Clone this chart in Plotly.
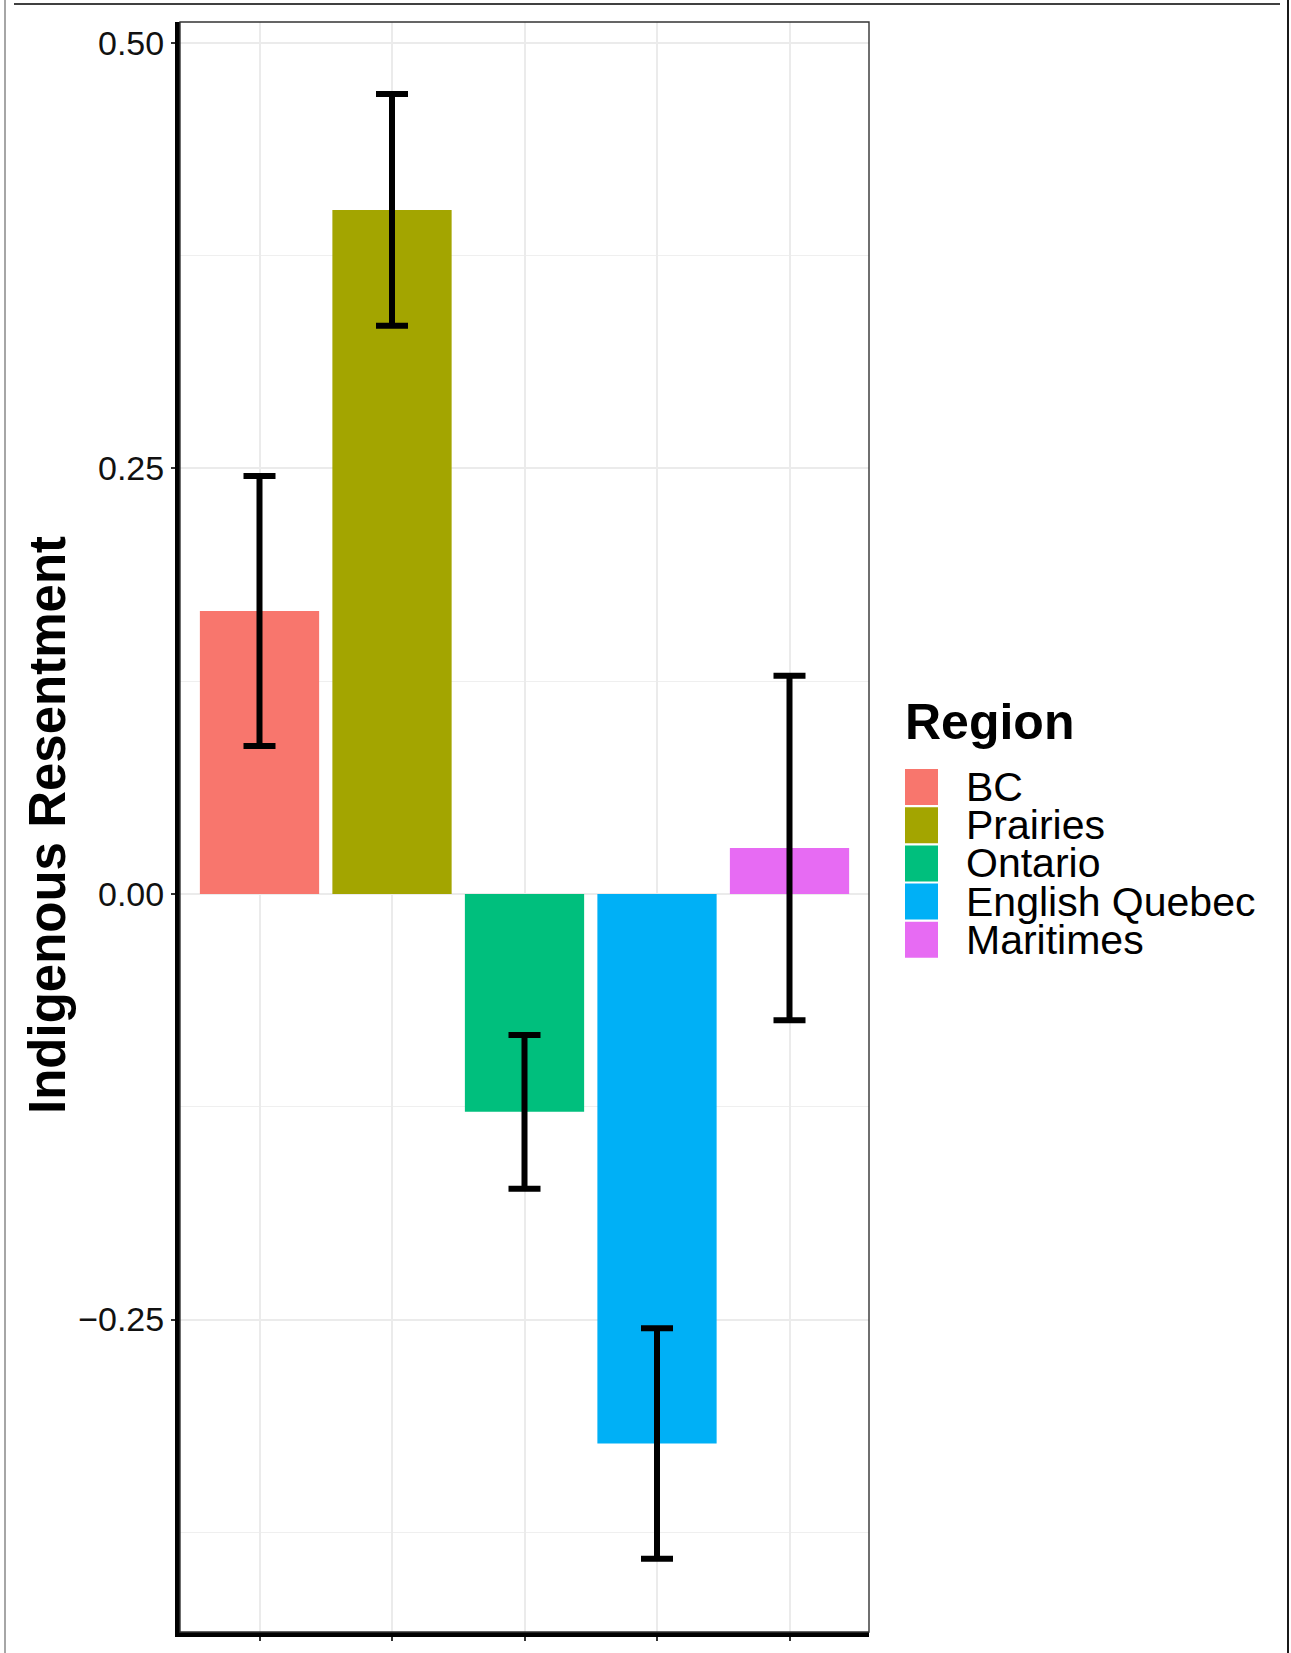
import plotly.graph_objects as go

# Region means and half-widths of the error bars
regions = ["BC", "Prairies", "Ontario", "English Quebec", "Maritimes"]
means = [0.1662, 0.4019, -0.1280, -0.3228, 0.0270]
errors = [0.0793, 0.0681, 0.0452, 0.0677, 0.1012]
colors = ["#F8766D", "#A3A500", "#00BF7D", "#00B0F6", "#E76BF3"]

y_ticks = [-0.25, 0.0, 0.25, 0.50]
y_tick_text = ["\u22120.25", "0.00", "0.25", "0.50"]
y_minor = [-0.375, -0.125, 0.125, 0.375]

W, H = 1291, 1653
L, R, T, B = 180, 869, 22, 1632  # plotting panel in page pixels
FONT = "Liberation Sans, Arial, Helvetica, sans-serif"


def px_x(px):
    return (px - L) / (R - L)


def px_y(py):
    return (B - py) / (B - T)


fig = go.Figure()
fig.add_trace(go.Bar(
    x=list(range(len(regions))),
    y=means,
    width=0.9,
    marker=dict(color=colors, line=dict(width=0)),
    error_y=dict(type="data", array=errors, symmetric=True,
                 color="black", thickness=6, width=16),
    showlegend=False,
    hoverinfo="skip",
))

shapes = [
    # thin panel border
    dict(type="rect", xref="paper", yref="paper", x0=0, x1=1, y0=0, y1=1,
         line=dict(color="#333333", width=1.4), layer="above"),
    # page frame
    dict(type="line", xref="paper", yref="paper", x0=px_x(5), x1=px_x(5),
         y0=px_y(0), y1=px_y(H), line=dict(color="#888888", width=1.5)),
    dict(type="line", xref="paper", yref="paper", x0=px_x(14), x1=px_x(1280),
         y0=px_y(4), y1=px_y(4), line=dict(color="black", width=1.5)),
    dict(type="line", xref="paper", yref="paper", x0=px_x(1288), x1=px_x(1288),
         y0=px_y(0), y1=px_y(H), line=dict(color="black", width=1.8)),
]

annotations = [
    dict(text="<b>Region</b>", xref="paper", yref="paper",
         x=px_x(903), y=px_y(722), xanchor="left", yanchor="middle",
         showarrow=False, font=dict(family=FONT, size=50, color="black")),
    # y-axis title
    dict(text="<b>Indigenous Resentment</b>", xref="paper", yref="paper",
         x=px_x(47), y=px_y(825), xanchor="center", yanchor="middle",
         textangle=-90, showarrow=False,
         font=dict(family=FONT, size=51, color="black")),
]

key_top, key_pitch, key_h = 769, 38.2, 36
for i, (name, col) in enumerate(zip(regions, colors)):
    y0 = key_top + i * key_pitch
    shapes.append(dict(type="rect", xref="paper", yref="paper",
                       x0=px_x(905), x1=px_x(938), y0=px_y(y0), y1=px_y(y0 + key_h),
                       fillcolor=col, line=dict(width=0)))
    annotations.append(dict(text=name, xref="paper", yref="paper",
                            x=px_x(964), y=px_y(y0 + key_h / 2),
                            xanchor="left", yanchor="middle", showarrow=False,
                            font=dict(family=FONT, size=41, color="black")))

fig.update_layout(
    width=W, height=H,
    margin=dict(l=L, r=W - R, t=T, b=H - B),
    paper_bgcolor="white", plot_bgcolor="white",
    font=dict(family=FONT, color="black"),
    bargap=0.1,
    shapes=shapes,
    annotations=annotations,
    xaxis=dict(
        type="linear", range=[-0.6, 4.6],
        tickvals=list(range(len(regions))), ticktext=[""] * len(regions),
        showgrid=True, gridcolor="#EBEBEB", gridwidth=2,
        zeroline=False,
        showline=True, linecolor="black", linewidth=5,
        ticks="outside", ticklen=4, tickwidth=1.5, tickcolor="#333333",
    ),
    yaxis=dict(
        range=[-0.4336, 0.5123],
        tickvals=y_ticks, ticktext=y_tick_text,
        tickfont=dict(family=FONT, size=34, color="#111111"),
        showgrid=True, gridcolor="#EBEBEB", gridwidth=2,
        minor=dict(tickvals=y_minor, showgrid=True, gridcolor="#EFEFEF",
                   gridwidth=1.2, ticks=""),
        zeroline=False,
        showline=True, linecolor="black", linewidth=5,
        ticks="outside", ticklen=4, tickwidth=1.5, tickcolor="#333333",
    ),
)

fig.write_html("out.html")
